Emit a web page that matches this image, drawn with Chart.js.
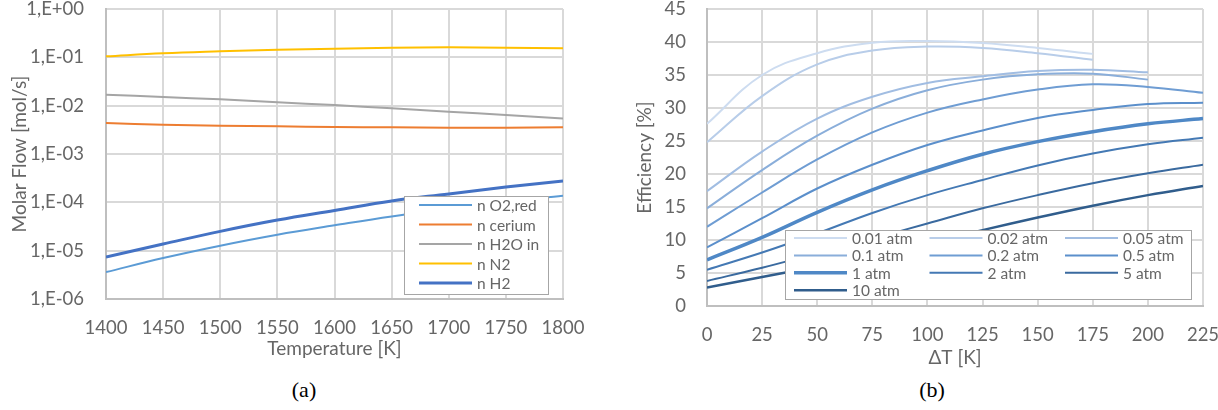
<!DOCTYPE html>
<html><head><meta charset="utf-8">
<script src="https://cdn.jsdelivr.net/npm/chart.js@4.4.1/dist/chart.umd.min.js"></script>
<style>
body{margin:0;background:#fff;width:1218px;height:410px;position:relative;overflow:hidden}
#ca{position:absolute;left:0;top:0}
#cb{position:absolute;left:600px;top:0}
.cap{position:absolute;top:377px;font-family:"Liberation Serif","DejaVu Serif",serif;font-size:22px;color:#000;transform:translateX(-50%);line-height:26px}
</style></head><body>
<canvas id="ca" width="600" height="370"></canvas>
<canvas id="cb" width="618" height="370"></canvas>
<div class="cap" style="left:304px">(a)</div>
<div class="cap" style="left:932px">(b)</div>
<script>
// ---- Chart (a) data ----
const temps = [1400,1450,1500,1550,1600,1650,1700,1750,1800];
const nO2red  = [3.6e-6,7.05e-6,1.27e-5,2.14e-5,3.34e-5,5.1e-5,7.3e-5,1.03e-4,1.37e-4];
const nCerium = [4.38e-3,4.04e-3,3.86e-3,3.73e-3,3.62e-3,3.56e-3,3.5e-3,3.5e-3,3.56e-3];
const nH2Oin  = [0.0169,0.0151,0.0135,0.0117,0.0103,0.0088,0.0075,0.0064,0.0054];
const nN2     = [0.105,0.121,0.133,0.144,0.151,0.158,0.161,0.158,0.154];
const nH2     = [7.4e-6,1.37e-5,2.51e-5,4.3e-5,6.8e-5,1.07e-4,1.49e-4,2.07e-4,2.76e-4];
const seriesA = ['n O2,red','n cerium','n H2O in','n N2','n H2'];
const yTicksA = [1e-6,1e-5,1e-4,1e-3,1e-2,1e-1,1];
const yTickLabelsA = ['1,E-06','1,E-05','1,E-04','1,E-03','1,E-02','1,E-01','1,E+00'];
const xTickLabelsA = ['1400','1450','1500','1550','1600','1650','1700','1750','1800'];

// ---- Chart (b) data ----
const dT = [0,25,50,75,100,125,150,175,200,225];
const eff001 = [27.6,35.0,38.3,39.9,40.15,39.85,39.1,38.2];
const eff002 = [24.8,31.8,36.6,38.7,39.3,39.1,38.3,37.3];
const eff005 = [17.4,23.4,28.4,31.7,33.8,34.8,35.6,35.8,35.4];
const eff01  = [14.8,20.6,25.8,29.9,32.7,34.3,35.1,35.2,34.3];
const eff02  = [12.0,17.2,22.2,26.3,29.3,31.3,32.8,33.6,33.2,32.3];
const eff05  = [8.9,13.3,17.8,21.4,24.4,26.6,28.5,29.7,30.6,30.8];
const eff1   = [7.0,10.4,14.2,17.6,20.5,23.0,24.9,26.4,27.6,28.4];
const eff2   = [5.5,8.1,11.0,14.1,16.8,19.1,21.3,23.1,24.5,25.5];
const eff5   = [3.8,5.8,8.0,10.2,12.5,14.8,16.8,18.6,20.1,21.4];
const eff10  = [2.8,4.4,6.0,7.7,9.6,11.5,13.4,15.2,16.8,18.2];
const seriesB = ['0.01 atm','0.02 atm','0.05 atm','0.1 atm','0.2 atm','0.5 atm','1 atm','2 atm','5 atm','10 atm'];
const yTicksB = [0,5,10,15,20,25,30,35,40,45];
const xTicksB = [0,25,50,75,100,125,150,175,200,225];

Chart.defaults.font.family = 'Lato';
Chart.defaults.color = '#666666';

const boxLegend = {
  id: 'boxLegend',
  afterDatasetsDraw(chart, args, o) {
    const ctx = chart.ctx;
    ctx.save();
    ctx.fillStyle = '#ffffff';
    ctx.fillRect(o.x, o.y, o.w, o.h);
    ctx.strokeStyle = '#a6a6a6'; ctx.lineWidth = 1;
    ctx.strokeRect(o.x + 0.5, o.y + 0.5, o.w, o.h);
    ctx.font = o.font; ctx.textBaseline = 'middle'; ctx.textAlign = 'left';
    chart.data.datasets.forEach((ds, i) => {
      const col = i % o.cols, row = Math.floor(i / o.cols);
      const x = o.x + o.padX + col * o.colW, y = o.y + o.padY + row * o.rowH;
      ctx.strokeStyle = ds.borderColor; ctx.lineWidth = ds.borderWidth;
      ctx.beginPath(); ctx.moveTo(x, y); ctx.lineTo(x + o.lineLen, y); ctx.stroke();
      ctx.fillStyle = o.color;
      ctx.fillText(ds.label, x + o.lineLen + o.gap, y + 1);
    });
    ctx.restore();
  }
};

const gridOpts = {color:'#d9d9d9', lineWidth:2, drawTicks:false};
const borderOpts = {color:'#bfbfbf', width:2};
const tickFont = {size:18.5};
const titleFont = {size:19};

// ---- Chart (a) ----
const colorsA = ['#5b9bd5','#ed7d31','#a5a5a5','#ffc000','#4472c4'];
const widthsA = [2,2,2,2,3];
const valsA = [nO2red,nCerium,nH2Oin,nN2,nH2];
new Chart(document.getElementById('ca'), {
  type:'line',
  data:{datasets: seriesA.map((l,i)=>({
    label:l, data: temps.map((t,j)=>({x:t,y:valsA[i][j]})),
    borderColor:colorsA[i], backgroundColor:colorsA[i], borderWidth:widthsA[i],
    pointRadius:0, tension:0.4, fill:false
  }))},
  options:{
    responsive:false, animation:false, events:[],
    layout:{padding:{left:0,top:9,right:37,bottom:0}},
    plugins:{legend:{display:false}, tooltip:{enabled:false},
      boxLegend:{x:404,y:196,w:144,h:98,padX:15,padY:9,rowH:19.5,colW:0,cols:1,lineLen:53,gap:5,font:'15.5px Lato',color:'#666666'}},
    scales:{
      x:{type:'linear', min:1400, max:1800,
        afterBuildTicks:s=>{ s.ticks = temps.map(v=>({value:v})); },
        afterFit:s=>{ s.height = 71; s.paddingLeft=0; s.paddingRight=0; },
        grid:gridOpts, border:borderOpts,
        ticks:{font:tickFont, padding:18, maxRotation:0, autoSkip:false, callback:(v,i)=>xTickLabelsA[i]},
        title:{display:true, text:'Temperature [K]', font:titleFont, color:'#666666', padding:{top:0,bottom:10}}},
      y:{type:'logarithmic', min:1e-6, max:1,
        afterBuildTicks:s=>{ s.ticks = yTicksA.map(v=>({value:v})); },
        afterFit:s=>{ s.width = 106; s.paddingTop=0; s.paddingBottom=0; },
        grid:gridOpts, border:borderOpts,
        ticks:{font:tickFont, padding:22, callback:(v,i)=>yTickLabelsA[i]},
        title:{display:true, text:'Molar Flow [mol/s]', font:titleFont, color:'#666666', padding:{top:8,bottom:0}}}
    }
  },
  plugins:[boxLegend]
});

// ---- Chart (b) ----
const colorsB = ['#cddcf0','#b8cde9','#a1bde2','#8aaeda','#6f9dd3','#5b8fcb','#4f88c6','#4479b4','#3a6a9f','#305d8c'];
const widthsB = [2,2,2,2,2,2,3.5,2,2,2.5];
const valsB = [eff001,eff002,eff005,eff01,eff02,eff05,eff1,eff2,eff5,eff10];
new Chart(document.getElementById('cb'), {
  type:'line',
  data:{datasets: seriesB.map((l,i)=>({
    label:l, data: valsB[i].map((v,j)=>({x:dT[j],y:v})),
    borderColor:colorsB[i], backgroundColor:colorsB[i], borderWidth:widthsB[i],
    pointRadius:0, tension:0.4, fill:false
  }))},
  options:{
    responsive:false, animation:false, events:[],
    layout:{padding:{left:0,top:9,right:15,bottom:0}},
    plugins:{legend:{display:false}, tooltip:{enabled:false},
      boxLegend:{x:185,y:230,w:406,h:69,padX:9,padY:8,rowH:17.4,colW:135.5,cols:3,lineLen:53,gap:5,font:'15.5px Lato',color:'#666666'}},
    scales:{
      x:{type:'linear', min:0, max:225,
        afterBuildTicks:s=>{ s.ticks = xTicksB.map(v=>({value:v})); },
        afterFit:s=>{ s.height = 64; s.paddingLeft=0; s.paddingRight=0; },
        grid:gridOpts, border:borderOpts,
        ticks:{font:tickFont, padding:18, maxRotation:0, autoSkip:false},
        title:{display:true, text:'ΔT [K]', font:titleFont, color:'#666666', padding:{top:0,bottom:1}}},
      y:{type:'linear', min:0, max:45,
        afterBuildTicks:s=>{ s.ticks = yTicksB.map(v=>({value:v})); },
        afterFit:s=>{ s.width = 107; s.paddingTop=0; s.paddingBottom=0; },
        grid:gridOpts, border:borderOpts,
        ticks:{font:tickFont, padding:21},
        title:{display:true, text:'Efficiency [%]', font:titleFont, color:'#666666', padding:{top:33,bottom:0}}}
    }
  },
  plugins:[boxLegend]
});
</script>
</body></html>
